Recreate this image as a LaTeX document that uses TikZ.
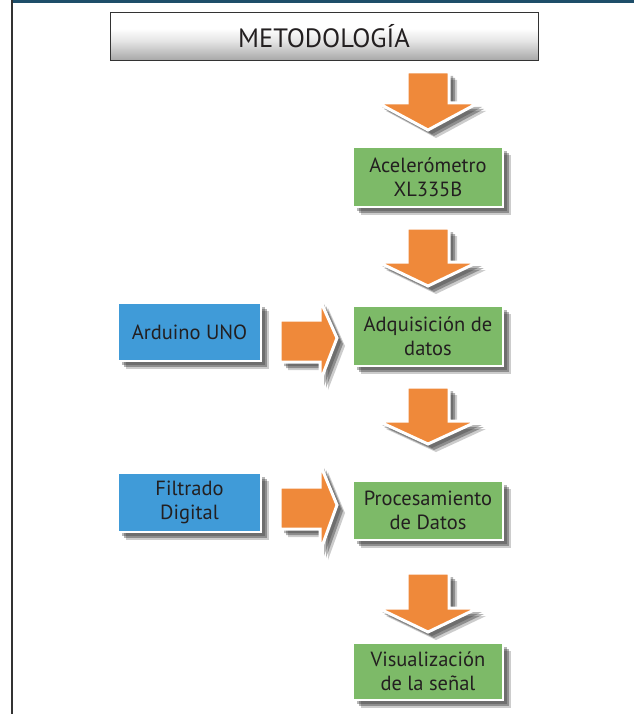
\documentclass[tikz,border=0pt]{standalone}
\usepackage{fontspec}
\setmainfont{PT Sans}
\usetikzlibrary{shadows}
\definecolor{gbox}{RGB}{125,186,104}
\definecolor{bbox}{RGB}{64,155,216}
\definecolor{oarr}{RGB}{239,137,58}
\definecolor{topline}{RGB}{30,78,105}
\definecolor{txt}{RGB}{35,31,32}
\pgfdeclareverticalshading{titleshade}{100bp}{color(0bp)=(black!62); color(20bp)=(black!40); color(45bp)=(black!10); color(58bp)=(white); color(100bp)=(white)}
\newcommand\darrow[4]{% x, top, head top, tip
  \path[arrowst] (#1-21,#2) -- (#1+21,#2) -- (#1+21,#3) -- (#1+50,#3) -- (#1,#4) -- (#1-50,#3) -- (#1-21,#3) -- cycle;}
\newcommand\rarrow[3]{% y shaft mid, head half, tip y
  \path[arrowst] (280,#1-21) -- (320,#1-21) -- (320,#1-#2) -- (337,#3) -- (320,#1+#2) -- (320,#1+21) -- (280,#1+21) -- cycle;}
\begin{document}
\begin{tikzpicture}[x=1pt,y=-1pt,
  shadowed/.style={drop shadow={shadow xshift=8pt,shadow yshift=-8pt,opacity=.2,fill=black},
                   drop shadow={shadow xshift=6pt,shadow yshift=-6pt,opacity=.3,fill=black},
                   drop shadow={shadow xshift=4pt,shadow yshift=-4pt,opacity=.35,fill=black!80}},
  boxbase/.style={shadowed, draw=white, line width=2pt, text=txt, align=center, inner sep=0pt,
                  font=\fontsize{20.5}{24}\selectfont},
  greenbox/.style={boxbase, fill=gbox, minimum width=150pt},
  bluebox/.style={boxbase, fill=bbox, minimum width=143pt},
  arrowst/.style={shadowed, fill=oarr, draw=white, line width=3pt, line join=miter},
  titlebox/.style={draw=black!80, line width=0.8pt, shading=titleshade, minimum width=428pt,
                   minimum height=48pt, text=txt, font=\fontsize{26.5}{30}\selectfont}]
\useasboundingbox (0,0) rectangle (634,714);
\fill[white] (0,0) rectangle (634,714);
\draw[topline, line width=2.6pt] (12,1.3) -- (634,1.3);
\draw[black!80, line width=1.8pt] (12,0) -- (12,714);

\node[titlebox] (title) at (324,36) {METODOLOGÍA};

\darrow{428}{72}{103}{130}
\darrow{428}{228}{262}{286}
\darrow{428}{387}{421}{444}
\darrow{428}{573}{608}{632}
\rarrow{341}{41}{338}
\rarrow{508}{44}{505}

\node[greenbox, minimum height=60pt] (acel) at (428,177) {Acelerómetro\\XL335B};
\node[greenbox, minimum height=60pt] (adq) at (428,336) {Adquisición de\\datos};
\node[greenbox, minimum height=59pt] (proc) at (428,510.5) {Procesamiento\\de Datos};
\node[greenbox, minimum height=57pt] (vis) at (428,671.5) {Visualización\\de la señal};
\node[bluebox, minimum height=58pt] (ard) at (189.5,332) {Arduino UNO};
\node[bluebox, minimum height=59pt] (fil) at (189.5,502.5) {Filtrado\\Digital};
\end{tikzpicture}
\end{document}
